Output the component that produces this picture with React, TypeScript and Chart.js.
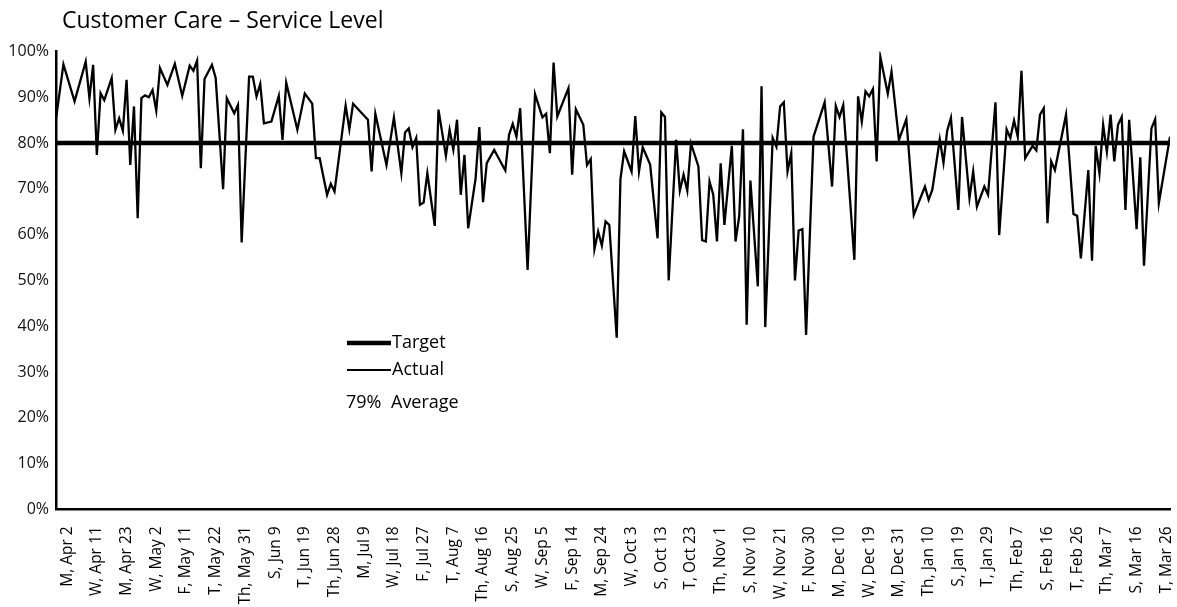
import React, { useEffect, useRef } from "react";
import { Chart, registerables } from "chart.js";
Chart.register(...registerables);

const chartTitle = "Customer Care – Service Level";

const tickLabels = [
  "M, Apr 2", "W, Apr 11", "M, Apr 23", "W, May 2", "F, May 11", "T, May 22", "Th, May 31",
  "S, Jun 9", "T, Jun 19", "Th, Jun 28", "M, Jul 9", "W, Jul 18", "F, Jul 27", "T, Aug 7",
  "Th, Aug 16", "S, Aug 25", "W, Sep 5", "F, Sep 14", "M, Sep 24", "W, Oct 3", "S, Oct 13",
  "T, Oct 23", "Th, Nov 1", "S, Nov 10", "W, Nov 21", "F, Nov 30", "M, Dec 10", "W, Dec 19",
  "M, Dec 31", "Th, Jan 10", "S, Jan 19", "T, Jan 29", "Th, Feb 7", "S, Feb 16", "T, Feb 26",
  "Th, Mar 7", "S, Mar 16", "T, Mar 26",
];

// daily service level (%), null = no reading (line spans the gap)
const serviceLevel: (number | null)[] = [
  85.3, null, 97.2, null, null, 89.1, null, null, 97.8, 89.8,
  97.1, 77.4, 90.9, 89.4, null, 94.2, 82.9, 85.4, 82.7, 93.8,
  75.2, 88.0, 63.6, 89.8, 90.4, 90.0, 91.6, 87.1, 96.4, null,
  92.7, null, 97.3, null, 90.3, null, 96.9, 95.8, 98.0, 74.5,
  94.0, null, 97.1, 94.2, null, 69.9, 89.8, null, 86.5, 88.3,
  58.3, null, 94.5, 94.5, 90.2, 92.9, 84.3, null, 84.7, null,
  90.3, 80.7, 93.2, null, null, 82.9, null, 90.8, null, 88.6,
  76.7, 76.7, null, 68.7, 71.1, 69.4, null, null, 88.2, 83.0,
  88.6, null, null, null, 85.1, 73.8, 86.4, null, null, 75.2,
  null, 85.6, null, 73.4, 82.3, 83.2, 79.1, 81.1, 66.5, 67.0,
  73.4, null, 61.9, 87.3, null, 77.2, 82.9, 78.6, 85.1, 68.7,
  77.4, 61.4, null, 72.3, 83.5, 67.1, 75.6, null, 78.5, null,
  null, 74.0, 81.8, 84.2, 81.4, 87.6, null, 52.3, null, 90.7,
  null, 85.6, 86.4, 77.8, 97.6, 85.8, null, null, 92.0, 73.1,
  87.4, null, 84.0, 75.2, 76.5, 56.8, 60.7, 57.6, 62.9, 62.1,
  null, 37.5, 72.1, 78.2, null, 73.8, 85.9, 73.8, 79.1, null,
  75.3, null, 59.2, 86.7, 85.7, 50.0, null, 80.7, 69.6, 73.1,
  69.6, 79.9, null, 74.9, 58.8, 58.5, 71.6, 68.7, 58.5, 75.6,
  62.1, null, 79.4, 58.5, 64.1, 83.0, 40.3, 71.8, null, 48.7,
  92.4, 39.8, null, 81.1, 79.2, 88.0, 88.9, 73.8, 77.8, 50.0,
  60.9, 61.2, 38.1, null, 81.4, null, null, 88.9, null, 70.5,
  88.1, 85.7, 88.3, null, null, 54.5, 90.2, 84.7, 91.3, 90.2,
  91.8, 76.0, 98.8, null, 90.8, 95.6, null, 80.7, null, 85.2,
  null, 64.3, null, null, 70.5, 67.6, 69.8, null, 80.8, 75.7,
  82.7, 85.5, null, 65.4, 85.7, null, 68.0, 73.8, 66.1, null,
  70.5, 68.7, null, 88.9, 59.9, null, 83.0, 81.1, 84.9, 81.4,
  95.8, 76.7, null, 79.4, 78.4, 86.2, 87.6, 62.5, 76.0, 74.1,
  null, null, 86.2, null, 64.5, 64.1, 54.8, null, 74.1, 54.3,
  79.4, 73.4, 84.0, 78.1, 86.2, 76.0, 84.0, 85.7, 65.4, 85.1,
  null, 61.2, 76.9, 53.2, null, 83.2, 85.2, 66.9, null, null,
  81.4,
];

const targetLevel = 80;
const averageLevel = 79;
const firstTickIndex = 3;
const tickEvery = 8;

const FONT = "'Open Sans', 'Noto Sans', sans-serif";
const W = 1177;
const H = 607;

export default function App() {
  const ref = useRef<HTMLCanvasElement>(null);

  useEffect(() => {
    if (!ref.current) return;
    const lastIndex = serviceLevel.length - 1;
    const actualPts = serviceLevel.map((v, i) => ({ x: i, y: v }));
    const targetPts = [
      { x: 0, y: targetLevel },
      { x: lastIndex, y: targetLevel },
    ];

    const overlay = {
      id: "overlay",
      afterDraw(chart: any) {
        const ctx = chart.ctx as CanvasRenderingContext2D;
        ctx.save();
        ctx.fillStyle = "#000";
        ctx.strokeStyle = "#000";
        ctx.textBaseline = "middle";
        ctx.textAlign = "left";
        ctx.font = `23px ${FONT}`;
        ctx.fillText(chartTitle, 62, 21);
        // legend
        ctx.lineWidth = 4.5;
        ctx.beginPath();
        ctx.moveTo(347, 343);
        ctx.lineTo(391, 343);
        ctx.stroke();
        ctx.lineWidth = 2;
        ctx.beginPath();
        ctx.moveTo(347, 370);
        ctx.lineTo(391, 370);
        ctx.stroke();
        ctx.font = `18px ${FONT}`;
        ctx.fillText("Target", 392, 343);
        ctx.fillText("Actual", 392, 370);
        ctx.fillText(`${averageLevel}%`, 346, 403);
        ctx.fillText("Average", 391, 403);
        ctx.restore();
      },
    };

    const chart = new Chart(ref.current, {
      type: "line",
      data: {
        datasets: [
          {
            label: "Target",
            data: targetPts,
            borderColor: "#000",
            borderWidth: 4.5,
            pointRadius: 0,
          },
          {
            label: "Actual",
            data: actualPts as any,
            borderColor: "#000",
            borderWidth: 2.3,
            pointRadius: 0,
            spanGaps: true,
            tension: 0,
          },
        ],
      },
      options: {
        responsive: false,
        animation: false,
        devicePixelRatio: 1,
        layout: { padding: { top: 51.5, right: 7, bottom: 0, left: 0 } },
        plugins: {
          legend: { display: false },
          tooltip: { enabled: false },
          title: { display: false },
        },
        scales: {
          x: {
            type: "linear",
            min: 0,
            max: lastIndex,
            grid: { display: false, drawTicks: false },
            border: { display: true, color: "#000", width: 2.5 },
            afterBuildTicks: (scale: any) => {
              scale.ticks = tickLabels.map((_, k) => ({ value: firstTickIndex + k * tickEvery }));
            },
            afterFit: (scale: any) => {
              scale.height = H - 509.3;
              scale.paddingLeft = 0;
              scale.paddingRight = 0;
            },
            ticks: {
              autoSkip: false,
              maxRotation: 90,
              minRotation: 90,
              padding: 17,
              color: "#000",
              font: { family: FONT, size: 15.5 },
              callback: (value: any) => {
                const k = (Number(value) - firstTickIndex) / tickEvery;
                return tickLabels[k] ?? "";
              },
            },
          },
          y: {
            min: 0,
            max: 100,
            grid: { display: false, drawTicks: false },
            border: { display: true, color: "#000", width: 2.5 },
            afterFit: (scale: any) => {
              scale.width = 56;
            },
            ticks: {
              stepSize: 10,
              padding: 7,
              color: "#111",
              font: { family: FONT, size: 16 },
              callback: (v: any) => `${v}%`,
            },
          },
        },
      },
      plugins: [overlay],
    });

    return () => chart.destroy();
  }, []);

  return (
    <div style={{ position: "absolute", left: 0, top: 0, width: W, height: H }}>
      <canvas ref={ref} width={W} height={H} />
    </div>
  );
}
